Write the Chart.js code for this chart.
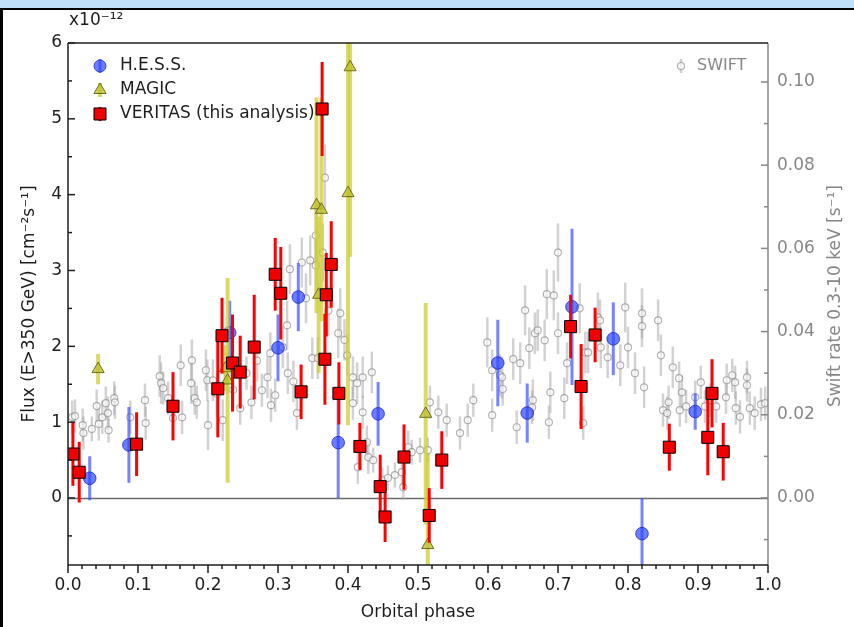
<!DOCTYPE html>
<html>
<head>
<meta charset="utf-8">
<script src="https://cdn.jsdelivr.net/npm/chart.js@4.4.0/dist/chart.umd.min.js"></script>
<style>
  html, body { margin: 0; padding: 0; background: #bfe0f8; }
  #frame { position: absolute; left: 0; top: 8px; width: 851px; height: 617px;
           border-left: 3px solid #000; border-top: 2px solid #000; background: #fff; }
  #frame canvas { display: block; }
</style>
</head>
<body>
<div id="frame"><canvas id="lc" width="851" height="617"></canvas></div>
<script>
//// data (flux in units of 1e-12 cm^-2 s^-1, swift in counts/s)
const phaseTicks = [0, 0.1, 0.2, 0.3, 0.4, 0.5, 0.6, 0.7, 0.8, 0.9, 1.0]
const fluxTicks = [0, 1, 2, 3, 4, 5, 6]
const swiftTicks = [0, 0.02, 0.04, 0.06, 0.08, 0.10]

const hessPhase = [0.031, 0.087, 0.231, 0.300, 0.329, 0.386, 0.443, 0.614, 0.656, 0.720, 0.779, 0.820, 0.896]
const hessFlux  = [0.26, 0.70, 2.18, 1.98, 2.65, 0.73, 1.11, 1.78, 1.12, 2.52, 2.10, -0.47, 1.14]
const hessErr   = [0.29, 0.50, 0.42, 0.44, 0.45, 0.73, 0.42, 0.57, 0.39, 1.03, 0.48, 0.47, 0.24]

const magicPhase = [0.043, 0.225, 0.228, 0.355, 0.358, 0.362, 0.400, 0.403, 0.511, 0.514]
const magicFlux  = [1.70, 1.71, 1.55, 3.86, 2.68, 3.80, 4.02, 5.68, 1.11, -0.62]
const magicErr   = [0.20, 0.30, 1.35, 1.42, 1.03, 1.47, 3.06, 2.50, 1.46, 1.20]

const veritasPhase = [0.007, 0.016, 0.098, 0.150, 0.214, 0.220, 0.235, 0.246, 0.266, 0.296,
                      0.304, 0.333, 0.363, 0.367, 0.369, 0.376, 0.387, 0.417, 0.446, 0.453,
                      0.480, 0.516, 0.534, 0.718, 0.733, 0.753, 0.859, 0.914, 0.920, 0.936]
const veritasFlux  = [0.58, 0.34, 0.71, 1.21, 1.44, 2.14, 1.78, 1.66, 1.99, 2.95,
                      2.70, 1.40, 5.13, 1.83, 2.68, 3.08, 1.38, 0.68, 0.15, -0.25,
                      0.54, -0.23, 0.50, 2.26, 1.47, 2.15, 0.67, 0.80, 1.38, 0.61]
const veritasErr   = [0.42, 0.40, 0.42, 0.45, 0.64, 0.50, 0.64, 0.48, 0.69, 0.48,
                      0.61, 0.36, 0.62, 0.60, 0.55, 0.57, 0.41, 0.31, 0.42, 0.33,
                      0.43, 0.36, 0.38, 0.42, 0.56, 0.36, 0.31, 0.50, 0.45, 0.38]

const swiftPhase = [0.006, 0.010, 0.021, 0.022, 0.034, 0.041, 0.044, 0.049, 0.054, 0.057,
                    0.058, 0.066, 0.067, 0.089, 0.110, 0.111, 0.131, 0.133, 0.136, 0.143,
                    0.150, 0.161, 0.163, 0.176, 0.177, 0.181, 0.184, 0.197, 0.199, 0.200,
                    0.207, 0.213, 0.221, 0.228, 0.236, 0.246, 0.255, 0.262, 0.270, 0.277,
                    0.285, 0.289, 0.290, 0.296, 0.307, 0.313, 0.314, 0.317, 0.322, 0.327,
                    0.334, 0.340, 0.346, 0.349, 0.354, 0.354, 0.357, 0.364, 0.367, 0.372,
                    0.386, 0.389, 0.395, 0.399, 0.407, 0.407, 0.413, 0.414, 0.421, 0.421,
                    0.427, 0.429, 0.434, 0.436, 0.449, 0.457, 0.467, 0.477, 0.479, 0.486,
                    0.491, 0.503, 0.514, 0.517, 0.529, 0.541, 0.560, 0.571, 0.579, 0.599,
                    0.606, 0.606, 0.617, 0.620, 0.621, 0.636, 0.641, 0.646, 0.653, 0.659,
                    0.663, 0.664, 0.667, 0.671, 0.681, 0.684, 0.687, 0.689, 0.694, 0.700,
                    0.700, 0.709, 0.713, 0.731, 0.736, 0.739, 0.743, 0.757, 0.760, 0.761,
                    0.771, 0.789, 0.796, 0.800, 0.810, 0.820, 0.820, 0.823, 0.843, 0.847,
                    0.850, 0.856, 0.858, 0.864, 0.873, 0.874, 0.877, 0.883, 0.896, 0.904,
                    0.910, 0.917, 0.926, 0.940, 0.941, 0.949, 0.953, 0.954, 0.960, 0.970,
                    0.970, 0.974, 0.981, 0.990, 0.996]
const swiftRate  = [0.0194, 0.0197, 0.0175, 0.0156, 0.0166, 0.0221, 0.0178, 0.0194, 0.0228, 0.0204,
                    0.0163, 0.0240, 0.0230, 0.0194, 0.0235, 0.0180, 0.0293, 0.0276, 0.0264, 0.0240,
                    0.0192, 0.0319, 0.0194, 0.0276, 0.0331, 0.0240, 0.0230, 0.0307, 0.0283, 0.0175,
                    0.0283, 0.0250, 0.0187, 0.0300, 0.0260, 0.0216, 0.0300, 0.0230, 0.0330, 0.0259,
                    0.0290, 0.0348, 0.0223, 0.0247, 0.0362, 0.0415, 0.0300, 0.0550, 0.0280, 0.0204,
                    0.0566, 0.0480, 0.0571, 0.0336, 0.0631, 0.0559, 0.0336, 0.0590, 0.0770, 0.0450,
                    0.0396, 0.0444, 0.0380, 0.0343, 0.0290, 0.0228, 0.0276, 0.0074, 0.0290, 0.0206,
                    0.0134, 0.0098, 0.0302, 0.0091, 0.0043, 0.0048, 0.0055, 0.0062, 0.0026, 0.0122,
                    0.0110, 0.0115, 0.0115, 0.0230, 0.0206, 0.0187, 0.0156, 0.0187, 0.0235, 0.0374,
                    0.0199, 0.0307, 0.0295, 0.0290, 0.0262, 0.0334, 0.0170, 0.0324, 0.0451, 0.0360,
                    0.0218, 0.0235, 0.0396, 0.0403, 0.0379, 0.0490, 0.0182, 0.0254, 0.0487, 0.0590,
                    0.0396, 0.0240, 0.0324, 0.0456, 0.0180, 0.0350, 0.0350, 0.0434, 0.0427, 0.0362,
                    0.0338, 0.0319, 0.0458, 0.0362, 0.0300, 0.0444, 0.0413, 0.0266, 0.0427, 0.0343,
                    0.0211, 0.0204, 0.0230, 0.0314, 0.0288, 0.0211, 0.0254, 0.0220, 0.0242, 0.0278,
                    0.0220, 0.0235, 0.0220, 0.0242, 0.0283, 0.0295, 0.0278, 0.0216, 0.0195, 0.0290,
                    0.0271, 0.0216, 0.0204, 0.0225, 0.0228]
const swiftErr   = [0.004, 0.004, 0.004, 0.004, 0.003, 0.004, 0.004, 0.004, 0.004, 0.004,
                    0.003, 0.004, 0.004, 0.004, 0.004, 0.004, 0.005, 0.005, 0.004, 0.004,
                    0.004, 0.005, 0.004, 0.005, 0.005, 0.004, 0.004, 0.005, 0.005, 0.006,
                    0.005, 0.005, 0.005, 0.005, 0.005, 0.004, 0.004, 0.004, 0.005, 0.004,
                    0.005, 0.005, 0.004, 0.004, 0.005, 0.006, 0.005, 0.006, 0.005, 0.004,
                    0.006, 0.006, 0.006, 0.005, 0.007, 0.006, 0.005, 0.007, 0.008, 0.006,
                    0.006, 0.006, 0.005, 0.005, 0.005, 0.004, 0.005, 0.004, 0.005, 0.004,
                    0.004, 0.004, 0.005, 0.003, 0.003, 0.003, 0.003, 0.003, 0.003, 0.004,
                    0.003, 0.003, 0.003, 0.004, 0.004, 0.004, 0.004, 0.004, 0.004, 0.006,
                    0.004, 0.005, 0.005, 0.005, 0.004, 0.005, 0.004, 0.005, 0.006, 0.005,
                    0.004, 0.005, 0.005, 0.005, 0.005, 0.006, 0.004, 0.005, 0.006, 0.007,
                    0.005, 0.005, 0.005, 0.006, 0.004, 0.005, 0.005, 0.006, 0.005, 0.005,
                    0.005, 0.005, 0.006, 0.005, 0.005, 0.006, 0.005, 0.005, 0.005, 0.005,
                    0.004, 0.004, 0.004, 0.005, 0.004, 0.004, 0.004, 0.004, 0.004, 0.004,
                    0.004, 0.004, 0.004, 0.004, 0.004, 0.004, 0.004, 0.004, 0.004, 0.004,
                    0.004, 0.004, 0.004, 0.004, 0.004]

const toPoints = (xs, ys) => xs.map((x, i) => ({x: x, y: ys[i]}))

const FONT = 'DejaVu Sans'
const DARK = '#1e1e1e'
const GREY = '#878787'


//// plugins
// vertical error bars, drawn just before each dataset's markers
const errorBars = {
    id: 'errorBars',
    beforeDatasetDraw(chart, args) {
        const ds = chart.data.datasets[args.index]
        if (!ds.errY) return
        const meta = args.meta
        const ys = chart.scales[meta.yAxisID]
        const a = chart.chartArea
        const ctx = chart.ctx
        ctx.save()
        ctx.beginPath()
        ctx.rect(a.left, a.top, a.right - a.left, a.bottom - a.top)
        ctx.clip()
        ctx.strokeStyle = ds.errColor
        ctx.lineWidth = ds.errWidth
        ds.data.forEach((p, i) => {
            const px = meta.data[i].x
            ctx.beginPath()
            ctx.moveTo(px, ys.getPixelForValue(p.y - ds.errY[i]))
            ctx.lineTo(px, ys.getPixelForValue(p.y + ds.errY[i]))
            ctx.stroke()
        })
        ctx.restore()
    }
}

function seg(ctx, x1, y1, x2, y2) {
    ctx.beginPath(); ctx.moveTo(x1, y1); ctx.lineTo(x2, y2); ctx.stroke()
}

// zero line, spines, major + minor ticks (matplotlib look)
const axesDecor = {
    id: 'axesDecor',
    beforeDatasetsDraw(chart) {
        const {ctx, chartArea: a, scales: {y}} = chart
        ctx.save()
        ctx.strokeStyle = '#6a6a6a'
        ctx.lineWidth = 1.3
        const y0 = Math.round(y.getPixelForValue(0)) + 0.5
        seg(ctx, a.left, y0, a.right, y0)
        ctx.restore()
    },
    afterDatasetsDraw(chart) {
        const {ctx, chartArea: a, scales: {x, y, y2}} = chart
        ctx.save()
        ctx.lineWidth = 1.5
        ctx.strokeStyle = GREY
        seg(ctx, a.right, a.top, a.right, a.bottom)
        for (let v = -0.01; v <= 0.1001; v += 0.01) {
            const py = y2.getPixelForValue(v)
            const major = Math.abs(Math.round(v * 50) - v * 50) < 1e-6
            seg(ctx, a.right, py, a.right - (major ? 7 : 4), py)
        }
        ctx.strokeStyle = DARK
        seg(ctx, a.left, a.top, a.right, a.top)
        seg(ctx, a.left, a.top, a.left, a.bottom)
        seg(ctx, a.left, a.bottom, a.right, a.bottom)
        for (let i = 0; i <= 50; i++) {
            const px = x.getPixelForValue(i * 0.02)
            seg(ctx, px, a.bottom, px, a.bottom + (i % 5 === 0 ? 8 : 4))
        }
        for (let i = -1; i <= 12; i++) {
            const py = y.getPixelForValue(i * 0.5)
            seg(ctx, a.left, py, a.left + (i % 2 === 0 ? 7 : 4), py)
        }
        ctx.restore()
    }
}

// legends, exponent note and right axis title
const notes = {
    id: 'notes',
    afterDraw(chart) {
        const {ctx, chartArea: a} = chart
        const dp = Chart.helpers.drawPoint
        ctx.save()
        ctx.font = '17px "' + FONT + '"'
        ctx.textBaseline = 'middle'
        const rows = [
            {label: 'H.E.S.S.', style: 'circle', r: 6, fill: 'rgba(45,70,255,0.7)', edge: 'rgba(30,40,200,0.8)', bar: 'rgba(60,80,255,0.7)', w: 3},
            {label: 'MAGIC', style: 'triangle', r: 7, fill: 'rgba(190,190,40,0.75)', edge: 'rgba(100,100,20,0.9)', bar: 'rgba(205,205,55,0.75)', w: 4},
            {label: 'VERITAS (this analysis)', style: 'rect', r: 8.5, fill: '#f00000', edge: '#000', bar: '#ff0000', w: 3}
        ]
        rows.forEach((r, i) => {
            const cx = a.left + 32, cy = a.top + 23 + i * 24
            ctx.strokeStyle = r.bar; ctx.lineWidth = r.w
            seg(ctx, cx, cy - 7, cx, cy + 7)
            ctx.fillStyle = r.fill; ctx.strokeStyle = r.edge; ctx.lineWidth = 1
            dp(ctx, {pointStyle: r.style, radius: r.r, rotation: 0, borderWidth: 1}, cx, cy)
            ctx.fillStyle = DARK
            ctx.fillText(r.label, cx + 20, cy)
        })
        // SWIFT legend
        const sx = a.right - 87, sy = a.top + 23
        ctx.strokeStyle = 'rgba(170,170,170,0.6)'; ctx.lineWidth = 2.5
        seg(ctx, sx, sy - 7, sx, sy + 7)
        ctx.fillStyle = 'rgba(255,255,255,0.7)'; ctx.strokeStyle = 'rgba(140,140,140,0.7)'; ctx.lineWidth = 1.2
        dp(ctx, {pointStyle: 'circle', radius: 3.5, rotation: 0, borderWidth: 1.2}, sx, sy)
        ctx.fillStyle = GREY
        ctx.font = '16px "' + FONT + '"'
        ctx.fillText('SWIFT', sx + 16, sy)
        // exponent
        ctx.fillStyle = DARK
        ctx.font = '17px "' + FONT + '"'
        ctx.textBaseline = 'alphabetic'
        ctx.fillText('x10⁻¹²', a.left + 1, 15)
        // right axis title
        ctx.translate(833, (a.top + a.bottom) / 2 - 8)
        ctx.rotate(-Math.PI / 2)
        ctx.textAlign = 'center'
        ctx.textBaseline = 'middle'
        ctx.fillStyle = GREY
        ctx.fillText('Swift rate 0.3-10 keV [s⁻¹]', 0, 0)
        ctx.restore()
    }
}


//// chart
const tickFont = {family: FONT, size: 17}

let lightCurve = new Chart(document.querySelector('#lc'), {
    type: 'scatter',
    data: {
        datasets: [
            {
                label: 'VERITAS (this analysis)',
                data: toPoints(veritasPhase, veritasFlux),
                errY: veritasErr, errColor: '#ff0000', errWidth: 3,
                yAxisID: 'y',
                pointStyle: 'rect', pointRadius: 8.5,
                backgroundColor: '#f00000', borderColor: '#000', borderWidth: 1,
                order: 0
            },
            {
                label: 'MAGIC',
                data: toPoints(magicPhase, magicFlux),
                errY: magicErr, errColor: 'rgba(205,205,55,0.75)', errWidth: 4,
                yAxisID: 'y',
                pointStyle: 'triangle', pointRadius: 7,
                backgroundColor: 'rgba(190,190,40,0.75)', borderColor: 'rgba(100,100,20,0.9)', borderWidth: 1,
                order: 1
            },
            {
                label: 'H.E.S.S.',
                data: toPoints(hessPhase, hessFlux),
                errY: hessErr, errColor: 'rgba(60,80,255,0.7)', errWidth: 3,
                yAxisID: 'y',
                pointStyle: 'circle', pointRadius: 6.3,
                backgroundColor: 'rgba(45,70,255,0.7)', borderColor: 'rgba(30,40,200,0.8)', borderWidth: 1,
                order: 2
            },
            {
                label: 'SWIFT',
                data: toPoints(swiftPhase, swiftRate),
                errY: swiftErr, errColor: 'rgba(165,165,165,0.5)', errWidth: 2.5,
                yAxisID: 'y2',
                pointStyle: 'circle', pointRadius: 3.5,
                backgroundColor: 'rgba(255,255,255,0.6)', borderColor: 'rgba(130,130,130,0.6)', borderWidth: 1.2,
                order: 3
            }
        ]
    },
    options: {
        responsive: false,
        animation: false,
        layout: {padding: {top: 33, left: 0, right: 0, bottom: 0}},
        plugins: {
            legend: {display: false},
            tooltip: {enabled: false}
        },
        scales: {
            x: {
                type: 'linear', position: 'bottom', min: 0, max: 1,
                afterFit: s => { s.height = 62 },
                afterBuildTicks: s => { s.ticks = phaseTicks.map(v => ({value: v})) },
                grid: {display: false, drawTicks: false},
                border: {display: false},
                ticks: {padding: 10, color: DARK, font: tickFont, maxRotation: 0, autoSkip: false,
                        callback: v => v.toFixed(1)},
                title: {display: true, text: 'Orbital phase', color: DARK, font: tickFont,
                        padding: {top: 0, bottom: 4}}
            },
            y: {
                type: 'linear', position: 'left', min: -0.8835, max: 6,
                afterFit: s => { s.width = 65 },
                afterBuildTicks: s => { s.ticks = fluxTicks.map(v => ({value: v})) },
                grid: {display: false, drawTicks: false},
                border: {display: false},
                ticks: {padding: 6, color: DARK, font: tickFont, callback: v => String(v)},
                title: {display: true, text: 'Flux (E>350 GeV) [cm⁻²s⁻¹]', color: DARK, font: tickFont,
                        padding: {top: 16, bottom: 0}}
            },
            y2: {
                type: 'linear', position: 'right', min: -0.01611, max: 0.10937,
                afterFit: s => { s.width = 86 },
                afterBuildTicks: s => { s.ticks = swiftTicks.map(v => ({value: v})) },
                grid: {display: false, drawTicks: false},
                border: {display: false},
                ticks: {padding: 9, color: GREY, font: tickFont, callback: v => v.toFixed(2)}
            }
        }
    },
    plugins: [errorBars, axesDecor, notes]
});
</script>
</body>
</html>
